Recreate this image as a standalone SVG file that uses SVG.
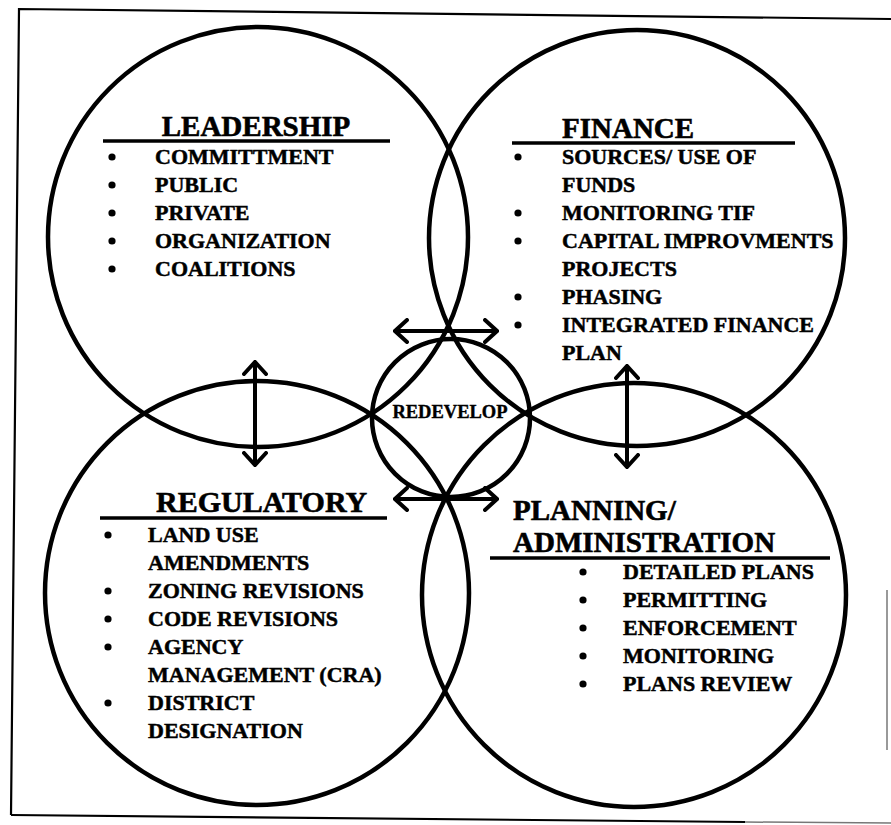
<svg xmlns="http://www.w3.org/2000/svg" width="891" height="825" viewBox="0 0 891 825">
  <defs>
    <style>
      .ring { fill: none; stroke: #000; stroke-width: 4.5; }
      .rule { stroke: #000; stroke-width: 3.5; }
      .frame { fill: none; stroke: #000; stroke-width: 2.2; }
      .title { font-family: "Liberation Serif", "Times New Roman", serif; font-weight: bold; font-size: 29px; fill: #000; stroke: #000; stroke-width: 0.6; }
      .item { font-family: "Liberation Serif", "Times New Roman", serif; font-weight: bold; font-size: 22px; fill: #000; stroke: #000; stroke-width: 0.5; }
      .hub { font-family: "Liberation Serif", "Times New Roman", serif; font-weight: bold; font-size: 18.5px; fill: #000; stroke: #000; stroke-width: 0.4; }
      .dot { fill: #000; stroke: none; }
      .link { stroke: #000; stroke-width: 4; fill: none; marker-start: url(#head); marker-end: url(#head); }
    </style>
    <marker id="head" markerUnits="userSpaceOnUse" viewBox="0 0 16 26" refX="14" refY="13" markerWidth="16" markerHeight="26" orient="auto-start-reverse">
      <path d="M2,2 L14,13 L2,24" fill="none" stroke="#000" stroke-width="4" stroke-linecap="round" stroke-linejoin="miter"/>
    </marker>
  </defs>

  <rect width="891" height="825" fill="#fff"/>

  <!-- outer frame (slightly skewed scan edge) -->
  <g id="frame">
    <path class="frame" d="M11,815 L19,9 L891,19"/>
    <path class="frame" d="M11,815 L745,822"/>
    <path d="M745,822 L891,823" fill="none" stroke="#777" stroke-width="1.5"/>
    <path d="M887,590 L887,750" fill="none" stroke="#777" stroke-width="1.5"/>
  </g>

  <!-- connectors -->
  <g id="connectors">
    <line class="link" x1="395" y1="331" x2="497" y2="331"/>
    <line class="link" x1="395" y1="499" x2="497" y2="499"/>
    <line class="link" x1="255" y1="362" x2="255" y2="465"/>
    <line class="link" x1="627" y1="366" x2="627" y2="467"/>
  </g>

  <g id="leadership">
    <circle class="ring" cx="258" cy="237" r="210"/>
    <text class="title" x="256" y="136" text-anchor="middle">LEADERSHIP</text>
    <line class="rule" x1="103" y1="141" x2="390" y2="141"/>
    <g class="item">
      <circle class="dot" cx="112" cy="157" r="3.6"/><text x="155" y="164">COMMITTMENT</text>
      <circle class="dot" cx="112" cy="185" r="3.6"/><text x="155" y="192">PUBLIC</text>
      <circle class="dot" cx="112" cy="213" r="3.6"/><text x="155" y="220">PRIVATE</text>
      <circle class="dot" cx="112" cy="241" r="3.6"/><text x="155" y="248">ORGANIZATION</text>
      <circle class="dot" cx="112" cy="269" r="3.6"/><text x="155" y="276">COALITIONS</text>
    </g>
  </g>

  <g id="finance">
    <circle class="ring" cx="637" cy="238" r="208"/>
    <text class="title" x="562" y="138">FINANCE</text>
    <line class="rule" x1="512" y1="143" x2="795" y2="143"/>
    <g class="item">
      <circle class="dot" cx="518" cy="157" r="3.6"/><text x="562" y="164">SOURCES/ USE OF</text>
      <text x="562" y="192">FUNDS</text>
      <circle class="dot" cx="518" cy="213" r="3.6"/><text x="562" y="220">MONITORING TIF</text>
      <circle class="dot" cx="518" cy="241" r="3.6"/><text x="562" y="248">CAPITAL IMPROVMENTS</text>
      <text x="562" y="276">PROJECTS</text>
      <circle class="dot" cx="518" cy="297" r="3.6"/><text x="562" y="304">PHASING</text>
      <circle class="dot" cx="518" cy="325" r="3.6"/><text x="562" y="332">INTEGRATED FINANCE</text>
      <text x="562" y="360">PLAN</text>
    </g>
  </g>

  <g id="regulatory">
    <circle class="ring" cx="257" cy="593" r="212"/>
    <text class="title" x="156" y="512" style="font-size:30px">REGULATORY</text>
    <line class="rule" x1="100" y1="518" x2="387" y2="518"/>
    <g class="item">
      <circle class="dot" cx="108" cy="535" r="3.6"/><text x="148" y="542">LAND USE</text>
      <text x="148" y="570">AMENDMENTS</text>
      <circle class="dot" cx="108" cy="591" r="3.6"/><text x="148" y="598">ZONING REVISIONS</text>
      <circle class="dot" cx="108" cy="619" r="3.6"/><text x="148" y="626">CODE REVISIONS</text>
      <circle class="dot" cx="108" cy="647" r="3.6"/><text x="148" y="654">AGENCY</text>
      <text x="148" y="682">MANAGEMENT (CRA)</text>
      <circle class="dot" cx="108" cy="703" r="3.6"/><text x="148" y="710">DISTRICT</text>
      <text x="148" y="738">DESIGNATION</text>
    </g>
  </g>

  <g id="planning">
    <circle class="ring" cx="634" cy="595" r="212"/>
    <text class="title" x="513" y="520">PLANNING/</text>
    <text class="title" x="513" y="552">ADMINISTRATION</text>
    <line class="rule" x1="490" y1="558" x2="830" y2="558"/>
    <g class="item">
      <circle class="dot" cx="583" cy="572" r="3.6"/><text x="623" y="579">DETAILED PLANS</text>
      <circle class="dot" cx="583" cy="600" r="3.6"/><text x="623" y="607">PERMITTING</text>
      <circle class="dot" cx="583" cy="628" r="3.6"/><text x="623" y="635">ENFORCEMENT</text>
      <circle class="dot" cx="583" cy="656" r="3.6"/><text x="623" y="663">MONITORING</text>
      <circle class="dot" cx="583" cy="684" r="3.6"/><text x="623" y="691">PLANS REVIEW</text>
    </g>
  </g>

  <g id="redevelop">
    <circle class="ring" cx="451" cy="418" r="79"/>
    <text class="hub" x="450" y="418" text-anchor="middle">REDEVELOP</text>
  </g>
</svg>
